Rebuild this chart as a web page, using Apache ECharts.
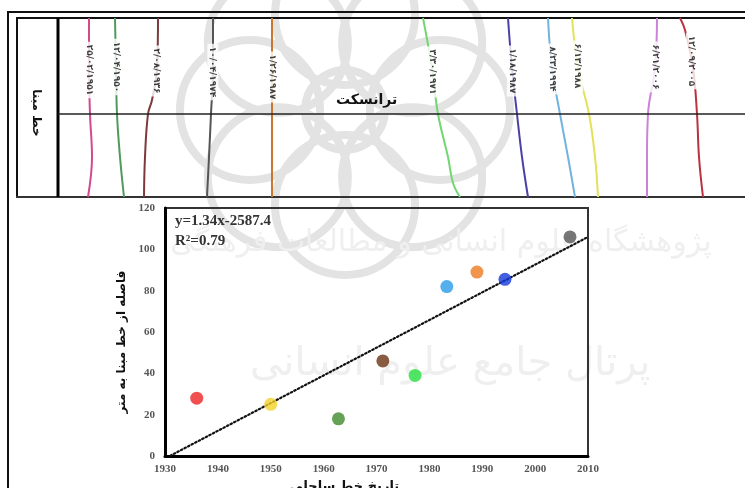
<!DOCTYPE html>
<html>
<head>
<meta charset="utf-8">
<script src="https://cdn.jsdelivr.net/npm/echarts@6/dist/echarts.min.js"></script>
<style>
  html, body { margin: 0; padding: 0; background: #fff; }
  #chart { width: 745px; height: 488px; }
</style>
</head>
<body>
<div id="chart"></div>
<script>
// ---- Shoreline positions vs. survey date (scatter + linear trend) ----
const surveyYears = [1936, 1950, 1962.8, 1971.2, 1977.3, 1983.3, 1989, 1994.3, 2006.6];
const baselineDistance = [28, 25, 18, 46, 39, 82, 89, 85.5, 106];
const pointColors = ['#ee2424', '#f6d22a', '#3f8a2c', '#6b3312', '#27e040', '#2b9be8', '#ee7a22', '#1438dc', '#555555'];
const trendSlope = 1.34;
const trendIntercept = -2587.4;
const trendYears = [1931, 2010];
const xTicks = [1930, 2010, 10];   // min, max, step
const yTicks = [0, 120, 20];

// ---- Shoreline sketch along the transect (panel units: across, along) ----
const shoreDates = ['۲۵/۰۲/۱۹۵۱', '۱۲/۰۴/۱۹۵۰', '۲/۰۸/۱۹۳۶', '۱۰/۰۴/۱۹۷۴', '۱/۲۶/۱۹۸۷', '۳/۳۰/۱۹۷۱',
                    '۱/۱۸/۱۹۸۷', '۸/۲۳/۱۹۹۴', '۶/۱۳/۱۹۸۸', '۶/۲۱/۲۰۰۶', '۱۲/۰۹/۲۰۰۵'];
const shoreColors = ['#d04a8c', '#4f9a5c', '#7d3a3c', '#555555', '#c8772c', '#72d672',
                     '#4b40a8', '#72b4de', '#e2e25a', '#cc82d8', '#b8333f'];
const shoreAcross = [
  [73, 73, 74, 76, 72],
  [99, 100, 101, 104, 108],
  [142, 141, 136, 132, 129, 128],
  [197, 197, 195, 193, 191],
  [256, 256, 256, 256, 256],
  [407, 416, 422, 432, 437, 444],
  [492, 496, 501, 506, 512],
  [532, 536, 544, 552, 559],
  [556, 562, 573, 579, 582],
  [641, 639, 632, 631, 631],
  [664, 669, 677, 681, 683, 687]
];
const shoreAlong = [
  [0, 50, 96, 139, 179],
  [0, 50, 96, 139, 179],
  [0, 50, 82, 96, 139, 179],
  [0, 50, 96, 139, 179],
  [0, 50, 96, 139, 179],
  [0, 50, 96, 139, 165, 179],
  [0, 50, 96, 139, 179],
  [0, 50, 96, 139, 179],
  [0, 50, 96, 139, 179],
  [0, 50, 96, 139, 179],
  [0, 12, 50, 96, 139, 179]
];
const labelAlong = [52, 49, 53, 54, 59, 54, 53, 51, 48, 49, 43];
const baselineAcross = 42;
const transectAlong = 96;

const chart = echarts.init(document.getElementById('chart'), null, { renderer: 'canvas' });

function acrossAt(i, along) {
  const xs = shoreAcross[i], ys = shoreAlong[i];
  for (let k = 0; k < ys.length - 1; k++) {
    if (along >= ys[k] && along <= ys[k + 1]) {
      const t = (along - ys[k]) / (ys[k + 1] - ys[k]);
      return xs[k] + t * (xs[k + 1] - xs[k]);
    }
  }
  return xs[0];
}

const series = [];

// shoreline curves
shoreDates.forEach((d, i) => {
  series.push({
    type: 'line', xAxisIndex: 0, yAxisIndex: 0, smooth: 0.4, symbol: 'none', z: 3,
    data: shoreAcross[i].map((x, k) => [x, shoreAlong[i][k]]),
    lineStyle: { color: shoreColors[i], width: 2 }, silent: true
  });
});

// date labels sitting on each shoreline
series.push({
  type: 'scatter', xAxisIndex: 0, yAxisIndex: 0, symbolSize: 1, z: 5, silent: true,
  itemStyle: { color: 'rgba(0,0,0,0)' },
  data: shoreDates.map((d, i) => ({ value: [acrossAt(i, labelAlong[i]), labelAlong[i]], name: d })),
  label: {
    show: true, position: 'inside', rotate: -90,
    formatter: p => p.name,
    fontFamily: 'DejaVu Sans', fontWeight: 'bold', fontSize: 9, color: '#111',
    backgroundColor: '#fff', padding: [1, 3]
  }
});

// baseline and transect
series.push({
  type: 'line', xAxisIndex: 0, yAxisIndex: 0, symbol: 'none', z: 4, silent: true,
  data: [[baselineAcross, 0], [baselineAcross, 179]],
  lineStyle: { color: '#000', width: 3 }
});
series.push({
  type: 'line', xAxisIndex: 0, yAxisIndex: 0, symbol: 'none', z: 4, silent: true,
  data: [[baselineAcross, transectAlong], [729, transectAlong]],
  lineStyle: { color: '#222', width: 1.5 }
});

// trend line from the fitted equation
series.push({
  type: 'line', xAxisIndex: 1, yAxisIndex: 1, symbol: 'none', z: 3, silent: true,
  data: trendYears.map(x => [x, trendSlope * x + trendIntercept]),
  lineStyle: { color: '#111', width: 2.2, type: [1.5, 2.5], cap: 'round' }
});

// observed shoreline distances
series.push({
  type: 'scatter', xAxisIndex: 1, yAxisIndex: 1, symbolSize: 13, z: 4,
  data: surveyYears.map((x, i) => ({ value: [x, baselineDistance[i]], itemStyle: { color: pointColors[i] } }))
});

// faint rosette emblem behind the upper panel
const rosette = [];
const cx = 345, cy = 110;
for (let k = 0; k < 8; k++) {
  const a = k * Math.PI / 4;
  rosette.push({
    type: 'circle', z: -10, silent: true,
    shape: { cx: cx + 95 * Math.cos(a), cy: cy + 95 * Math.sin(a), r: 70 },
    style: { fill: 'none', stroke: '#e3e3e3', lineWidth: 8 }
  });
}
rosette.push({ type: 'circle', z: -10, silent: true, shape: { cx: cx, cy: cy, r: 40 },
  style: { fill: 'none', stroke: '#e3e3e3', lineWidth: 8 } });

const tickFont = { fontFamily: 'Liberation Serif', fontWeight: 'bold', fontSize: 11, color: '#555' };

const option = {
  backgroundColor: '#fff',
  animation: false,
  grid: [
    { left: 16, top: 18, width: 729, height: 179, show: false, containLabel: false, outerBoundsMode: 'none' },
    { left: 165, top: 208, width: 423, height: 248, show: true, borderColor: '#333', borderWidth: 2,
      backgroundColor: 'transparent', containLabel: false, outerBoundsMode: 'none' }
  ],
  xAxis: [
    { gridIndex: 0, type: 'value', min: 0, max: 729, show: false },
    {
      gridIndex: 1, type: 'value', min: xTicks[0], max: xTicks[1], interval: xTicks[2],
      axisLine: { lineStyle: { color: '#000', width: 3 } },
      axisTick: { show: false }, splitLine: { show: false },
      axisLabel: Object.assign({ margin: 8, formatter: v => String(v) }, tickFont),
      name: 'تاریخ خط ساحلی', nameLocation: 'middle', nameGap: 20,
      nameTextStyle: { fontFamily: 'DejaVu Sans', fontWeight: 'bold', fontSize: 13, color: '#111', padding: [0, 64, 0, 0] }
    }
  ],
  yAxis: [
    { gridIndex: 0, type: 'value', min: 0, max: 179, inverse: true, show: false },
    {
      gridIndex: 1, type: 'value', min: yTicks[0], max: yTicks[1], interval: yTicks[2],
      axisLine: { show: true, lineStyle: { color: '#000', width: 3 } },
      axisTick: { show: false }, splitLine: { show: false },
      axisLabel: Object.assign({ margin: 10, formatter: v => String(v) }, tickFont),
      name: 'فاصله از خط مبنا به متر', nameLocation: 'middle', nameGap: 36, nameRotate: 90,
      nameTextStyle: { fontFamily: 'DejaVu Sans', fontWeight: 'bold', fontSize: 12, color: '#111', padding: [0, 20, 0, 0] }
    }
  ],
  graphic: [
    ...rosette,
    { type: 'text', z: -9, silent: true, left: 170, top: 228,
      style: { text: 'پژوهشگاه علوم انسانی و مطالعات فرهنگی', font: '30px "DejaVu Sans"', fill: '#efefef' } },
    { type: 'text', z: -9, silent: true, left: 250, top: 345,
      style: { text: 'پرتال جامع علوم انسانی', font: '40px "DejaVu Sans"', fill: '#efefef' } },
    // outer and inner frames of the sketch panel
    { type: 'line', shape: { x1: 7, y1: 12, x2: 745, y2: 12 }, style: { stroke: '#111', lineWidth: 2 } },
    { type: 'line', shape: { x1: 8, y1: 12, x2: 8, y2: 488 }, style: { stroke: '#111', lineWidth: 2 } },
    { type: 'line', shape: { x1: 16, y1: 18, x2: 745, y2: 18 }, style: { stroke: '#111', lineWidth: 2 } },
    { type: 'line', shape: { x1: 17, y1: 18, x2: 17, y2: 197 }, style: { stroke: '#111', lineWidth: 2 } },
    { type: 'line', shape: { x1: 16, y1: 197, x2: 745, y2: 197 }, style: { stroke: '#333', lineWidth: 2 } },
    { type: 'text', left: 336, top: 93, z: 6,
      style: { text: 'ترانسکت', font: 'bold 14px "DejaVu Sans"', fill: '#111' } },
    { type: 'text', x: 36, y: 113, rotation: -Math.PI / 2, z: 6,
      style: { text: 'خط مبنا', font: 'bold 12px "DejaVu Sans"', fill: '#111', align: 'center', verticalAlign: 'middle' } },
    { type: 'text', left: 175, top: 214, z: 6,
      style: { text: 'y=1.34x-2587.4', font: 'bold 15px "Liberation Serif"', fill: '#333' } },
    { type: 'text', left: 175, top: 234, z: 6,
      style: { text: 'R²=0.79', font: 'bold 15px "Liberation Serif"', fill: '#333' } }
  ],
  series: series
};

chart.setOption(option);
</script>
</body>
</html>
